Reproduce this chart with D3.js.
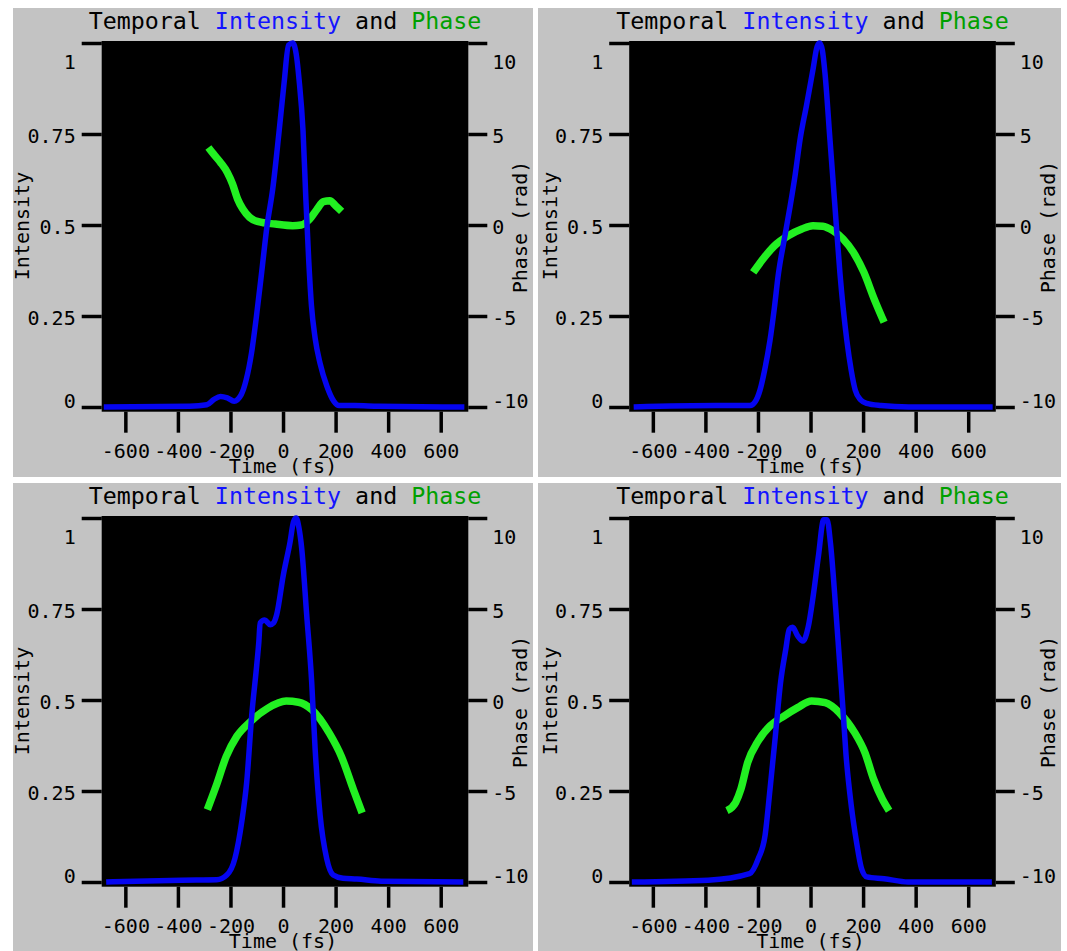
<!DOCTYPE html>
<html>
<head>
<meta charset="utf-8">
<script src="https://cdn.jsdelivr.net/npm/d3@7"></script>
<style>
  html, body { margin: 0; padding: 0; background: #ffffff; overflow: hidden; }
  text { white-space: pre; }
</style>
</head>
<body>
<svg id="chart" width="1067" height="951"></svg>
<script>
// Axis ticks
const timeTicks = [-600, -400, -200, 0, 200, 400, 600];
const intensityTicks = [0, 0.25, 0.5, 0.75, 1];
const phaseTicks = [-10, -5, 0, 5, 10];

// Pulse A (top left)
const pulseA_intensityTime = [-682, -355, -290, -264, -238, -212, -186, -159, -140, -120, -101, -81, -61, -39, -16, 4, 21, 37, 50, 61, 76, 87, 98, 108, 122, 141, 167, 193, 213, 272, 363, 690];
const pulseA_intensity     = [0, 0.002, 0.006, 0.02, 0.029, 0.025, 0.016, 0.034, 0.075, 0.148, 0.25, 0.372, 0.497, 0.6, 0.75, 0.89, 0.994, 1.0, 0.97, 0.9, 0.76, 0.57, 0.4, 0.28, 0.19, 0.12, 0.057, 0.016, 0.004, 0.004, 0.002, 0];
const pulseA_phaseTime = [-284, -264, -238, -212, -192, -173, -153, -127, -94, -29, 37, 69, 102, 128, 154, 178, 200, 223];
const pulseA_phase     = [4.26, 3.89, 3.44, 2.89, 2.25, 1.43, 0.88, 0.42, 0.18, 0.05, -0.04, 0, 0.33, 0.84, 1.28, 1.33, 1.06, 0.75];

// Pulse B (top right)
const pulseB_intensityTime = [-673, -359, -230, -210, -192, -175, -154, -138, -122, -100, -78, -58, -40, -15, 10, 25, 35, 45, 55, 74, 93, 112, 138, 155, 170, 190, 214, 268, 373, 693];
const pulseB_intensity     = [0, 0.004, 0.004, 0.015, 0.047, 0.1, 0.184, 0.27, 0.367, 0.46, 0.55, 0.64, 0.734, 0.83, 0.93, 0.99, 1.0, 0.98, 0.917, 0.734, 0.55, 0.367, 0.184, 0.1, 0.047, 0.02, 0.01, 0.004, 0, 0];
const pulseB_phaseTime = [-218, -176, -137, -85, -33, 9, 46, 85, 124, 163, 203, 242, 280];
const pulseB_phase     = [-2.6, -1.78, -1.14, -0.59, -0.22, -0.04, -0.07, -0.31, -0.77, -1.5, -2.6, -4.06, -5.35];

// Pulse C (bottom left)
const pulseC_intensityTime = [-673, -386, -252, -214, -183, -157, -138, -119, -100, -92, -87, -70, -49, -36, -24, 1, 27, 40, 50, 60, 71, 90, 109, 122, 141, 166, 191, 228, 281, 373, 686];
const pulseC_intensity     = [0, 0.005, 0.006, 0.019, 0.065, 0.166, 0.276, 0.459, 0.596, 0.66, 0.712, 0.72, 0.707, 0.712, 0.735, 0.843, 0.935, 0.99, 1.0, 0.975, 0.917, 0.734, 0.55, 0.367, 0.184, 0.065, 0.019, 0.01, 0.008, 0.002, 0];
const pulseC_phaseTime = [-288, -255, -216, -176, -124, -59, 12, 59, 111, 176, 222, 268, 301];
const pulseC_phase     = [-6.02, -4.74, -3.1, -2.0, -1.19, -0.46, -0.06, -0.12, -0.55, -1.82, -3.1, -4.93, -6.2];

// Pulse D (bottom right)
const pulseD_intensityTime = [-680, -390, -232, -199, -173, -154, -134, -114, -94, -81, -68, -49, -29, -9, 10, 30, 50, 63, 76, 96, 109, 122, 135, 155, 175, 194, 214, 280, 371, 690];
const pulseD_intensity     = [0, 0.005, 0.023, 0.064, 0.128, 0.256, 0.4, 0.548, 0.64, 0.694, 0.7, 0.676, 0.662, 0.7, 0.785, 0.895, 0.995, 0.995, 0.93, 0.75, 0.62, 0.49, 0.35, 0.21, 0.11, 0.037, 0.014, 0.009, 0, 0];
const pulseD_phaseTime = [-318, -285, -265, -239, -199, -154, -101, -49, 4, 56, 109, 168, 207, 240, 273, 299];
const pulseD_phase     = [-6.08, -5.63, -4.9, -3.43, -2.25, -1.42, -0.88, -0.42, -0.05, -0.15, -0.69, -1.79, -2.89, -4.35, -5.44, -6.08];

const FONT = '"DejaVu Sans Mono", "Liberation Mono", monospace';
const COLORS = {
  panel: '#c3c3c3',
  plot: '#000000',
  intensity: '#0505f0',
  phase: '#22f022',
  titleIntensity: '#1414ff',
  titlePhase: '#00a000'
};

const panels = [
  { frame: [13, 8, 520, 469],  dx: 0,     dy: 0,   it: pulseA_intensityTime, iv: pulseA_intensity, pt: pulseA_phaseTime, pv: pulseA_phase },
  { frame: [538, 8, 523, 469], dx: 527.5, dy: 0,   it: pulseB_intensityTime, iv: pulseB_intensity, pt: pulseB_phaseTime, pv: pulseB_phase },
  { frame: [13, 483, 520, 470],  dx: 0,     dy: 475, it: pulseC_intensityTime, iv: pulseC_intensity, pt: pulseC_phaseTime, pv: pulseC_phase },
  { frame: [538, 483, 523, 470], dx: 527.5, dy: 475, it: pulseD_intensityTime, iv: pulseD_intensity, pt: pulseD_phaseTime, pv: pulseD_phase }
];

// Plot box inside each panel (panel-relative drawing coordinates)
const plot = { left: 101.7, right: 468.3, top: 41.5, bottom: 411.7 };

const x = d3.scaleLinear().domain([-690, 705]).range([plot.left, plot.right]);
const yI = d3.scaleLinear().domain([0, 1]).range([407, 43]);
const yP = d3.scaleLinear().domain([-10, 10]).range([407, 43]);

const svg = d3.select('#chart');
const defs = svg.append('defs');

const intensityLine = d3.line().curve(d3.curveMonotoneX).x(d => x(d[0])).y(d => yI(d[1]));
const phaseLine = d3.line().curve(d3.curveMonotoneX).x(d => x(d[0])).y(d => yP(d[1]));

const fmtPlain = d => String(d);

panels.forEach((p, i) => {
  const [fx, fy, fw, fh] = p.frame;
  defs.append('clipPath').attr('id', 'panel-clip-' + i)
    .append('rect').attr('x', fx).attr('y', fy).attr('width', fw).attr('height', fh);

  const outer = svg.append('g').attr('clip-path', 'url(#panel-clip-' + i + ')');
  outer.append('rect').attr('x', fx).attr('y', fy).attr('width', fw).attr('height', fh)
    .attr('fill', COLORS.panel);

  const g = outer.append('g').attr('transform', `translate(${p.dx},${p.dy})`);

  // plot background
  g.append('rect')
    .attr('x', plot.left).attr('y', plot.top)
    .attr('width', plot.right - plot.left).attr('height', plot.bottom - plot.top)
    .attr('fill', COLORS.plot);

  // top border joining the outer ticks
  g.append('line')
    .attr('x1', plot.left).attr('x2', plot.right)
    .attr('y1', yI(1)).attr('y2', yI(1))
    .attr('stroke', '#000').attr('stroke-width', 4);

  // curves
  const phaseData = p.pt.map((t, k) => [t, p.pv[k]]);
  const intensityData = p.it.map((t, k) => [t, p.iv[k]]);

  g.append('path').datum(phaseData)
    .attr('d', phaseLine)
    .attr('fill', 'none').attr('stroke', COLORS.phase)
    .attr('stroke-width', 7.5).attr('stroke-linejoin', 'round');

  g.append('path').datum(intensityData)
    .attr('d', intensityLine)
    .attr('fill', 'none').attr('stroke', COLORS.intensity)
    .attr('stroke-width', 5.5).attr('stroke-linejoin', 'round');

  // left axis: intensity
  const left = g.append('g').attr('transform', `translate(${plot.left},0)`)
    .call(d3.axisLeft(yI).tickValues(intensityTicks).tickSize(20).tickPadding(6).tickFormat(fmtPlain));

  // right axis: phase
  const right = g.append('g').attr('transform', `translate(${plot.right},0)`)
    .call(d3.axisRight(yP).tickValues(phaseTicks).tickSize(19).tickPadding(5).tickFormat(fmtPlain));

  // bottom axis: time
  const bottom = g.append('g').attr('transform', `translate(0,${plot.bottom})`)
    .call(d3.axisBottom(x).tickValues(timeTicks).tickSize(21).tickFormat(fmtPlain));

  [left, right, bottom].forEach(ax => {
    ax.select('.domain').remove();
    ax.selectAll('.tick line').attr('stroke', '#000').attr('stroke-width', 3.5);
    ax.selectAll('.tick text')
      .attr('fill', '#000')
      .style('font-family', FONT)
      .style('font-size', '20px');
  });

  // end labels sit inside the plot span
  const shift = (v, lo, hi) => v === hi ? 18 : (v === lo ? -7 : 1.5);
  left.selectAll('.tick text').attr('dy', '0.35em')
    .attr('transform', d => `translate(0,${shift(d, 0, 1)})`);
  right.selectAll('.tick text').attr('dy', '0.35em')
    .attr('transform', d => `translate(0,${shift(d, -10, 10)})`);
  bottom.selectAll('.tick text').attr('y', 458 - plot.bottom).attr('dy', 0);

  // title
  const title = g.append('text')
    .attr('x', (plot.left + plot.right) / 2).attr('y', 28.5)
    .attr('text-anchor', 'middle')
    .style('font-family', FONT).style('font-size', '23.3px');
  title.append('tspan').attr('fill', '#000').text('Temporal ');
  title.append('tspan').attr('fill', COLORS.titleIntensity).text('Intensity');
  title.append('tspan').attr('fill', '#000').text(' and ');
  title.append('tspan').attr('fill', COLORS.titlePhase).text('Phase');

  // axis titles
  g.append('text')
    .attr('transform', `translate(22,226) rotate(-90)`)
    .attr('text-anchor', 'middle').attr('dy', '0.35em')
    .style('font-family', FONT).style('font-size', '20px')
    .attr('fill', '#000').text('Intensity');

  g.append('text')
    .attr('transform', `translate(520,227) rotate(-90)`)
    .attr('text-anchor', 'middle').attr('dy', '0.35em')
    .style('font-family', FONT).style('font-size', '20px')
    .attr('fill', '#000').text('Phase (rad)');

  g.append('text')
    .attr('x', x(0)).attr('y', 473)
    .attr('text-anchor', 'middle')
    .style('font-family', FONT).style('font-size', '20px')
    .attr('fill', '#000').text('Time (fs)');
});
</script>
</body>
</html>
